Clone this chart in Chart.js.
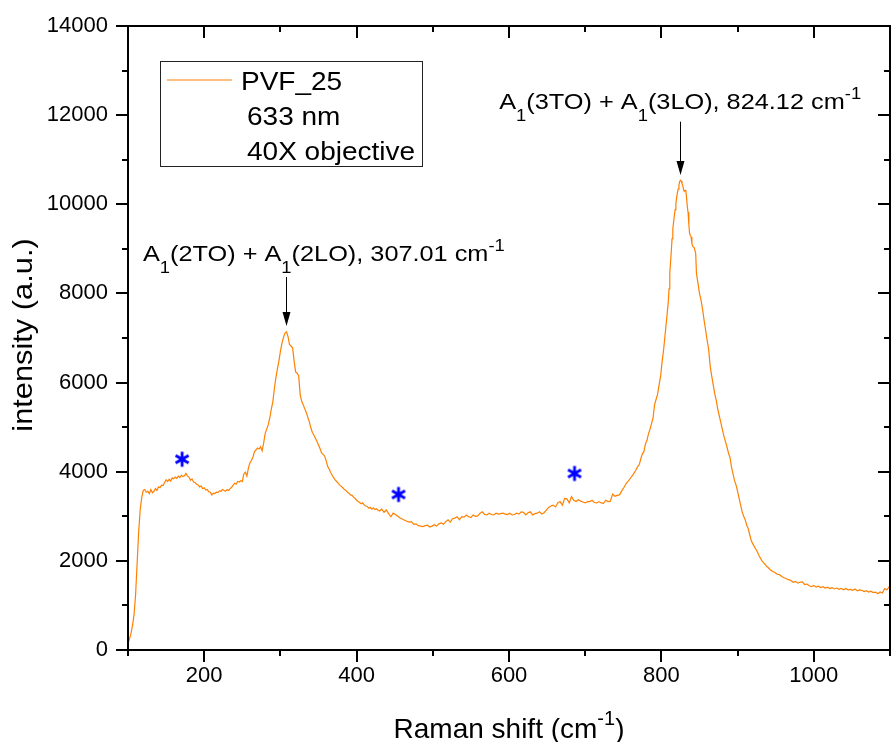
<!DOCTYPE html>
<html>
<head>
<meta charset="utf-8">
<script src="https://cdn.jsdelivr.net/npm/chart.js@4.4.1/dist/chart.umd.min.js"></script>
<style>
html, body { margin: 0; padding: 0; overflow: hidden; background: #fff; }
canvas { display: block; }
</style>
</head>
<body>
<canvas id="raman" width="900" height="742"></canvas>
<script>
// Raman spectrum, PVF_25 (633 nm, 40X objective)
const shift = [
  100,102,104,106,108,110,112,114,116,118,120,
  122,124,126,128,130,132,134,136,138,140,
  142,144,146,148,150,152,154,156,158,160,
  162,164,166,168,170,172,174,176,178,180,
  182,184,186,188,190,192,194,196,198,200,
  202,204,206,208,210,212,214,216,218,220,
  222,224,226,228,230,232,234,236,238,240,
  242,244,246,248,250,252,254,256,258,260,
  262,264,266,268,270,272,274,276,278,280,
  282,284,286,288,290,292,294,296,298,300,
  302,304,306,308,310,312,314,316,318,320,
  322,324,326,328,330,332,334,336,338,340,
  342,344,346,348,350,352,354,356,358,360,
  362,364,366,368,370,372,374,376,378,380,
  382,384,386,388,390,392,394,396,398,400,
  402,404,406,408,410,412,414,416,418,420,
  422,424,426,428,430,
  433,436,439,442,445,448,451,454,457,460,
  463,466,469,472,475,478,481,484,487,490,
  493,496,499,502,505,508,511,514,517,520,
  523,526,529,532,535,538,541,544,547,550,
  553,556,559,562,565,568,571,574,577,580,
  583,586,589,592,595,598,601,604,607,610,
  613,616,619,622,625,628,631,634,637,640,
  643,646,649,652,655,658,661,664,667,670,
  673,676,679,682,685,688,691,694,697,700,
  703,706,709,712,715,718,721,724,727,730,
  733,736,739,742,745,748,751,754,757,760,
  763,766,769,771,773,775,777,779,781,783,
  785,787,789,791,793,795,797,799,801,803,
  805,807,809,810,811,812,813,814,815,816,
  817,818,819,820,821,822,823,824,825,826,
  827,828,829,830,831,832,833,834,835,836,
  837,838,839,840,841,843,845,846,848,850,
  852,854,856,858,860,862,864,866,868,870,
  872,874,876,878,880,882,884,886,888,890,
  892,894,896,898,900,902,904,906,908,910,
  912,914,916,918,920,922,924,926,928,930,
  932,934,936,938,940,943,946,949,952,955,
  958,961,964,967,970,973,976,979,982,985,
  988,991,994,997,1000,1003,1006,1009,1012,1015,
  1018,1021,1024,1027,1030,1033,1036,1039,1042,1045,
  1048,1051,1054,1057,1060,1063,1066,1069,1072,1075,
  1078,1081,1084,1087,1090,1093,1096,1099
];
const intensity = [
  150,250,380,560,800,1250,1950,2650,3150,3420,3580,
  3600,3540,3560,3510,3600,3530,3560,3620,3580,3660,
  3640,3700,3690,3760,3820,3780,3830,3790,3860,3840,
  3880,3850,3900,3870,3920,3890,3910,3960,3900,3880,
  3810,3840,3770,3760,3720,3700,3660,3680,3620,3640,
  3590,3600,3550,3540,3480,3520,3510,3540,3530,3570,
  3560,3600,3580,3560,3600,3580,3620,3650,3700,3740,
  3720,3780,3770,3800,3780,3950,3990,3900,4080,4200,
  4250,4330,4450,4490,4530,4510,4560,4470,4640,4860,
  4950,5050,5200,5400,5560,5850,6100,6300,6480,6700,
  6880,7010,7110,7140,7030,6850,6820,6780,6480,6240,
  6210,6150,5720,5580,5500,5410,5330,5220,5120,4980,
  4880,4820,4750,4680,4600,4520,4420,4390,4350,4250,
  4120,4060,3980,3920,3860,3810,3780,3740,3700,3670,
  3640,3600,3580,3540,3520,3480,3470,3430,3400,3360,
  3330,3310,3280,3300,3250,3230,3220,3180,3200,3160,
  3190,3150,3170,3140,3120,
  3160,3090,3140,3060,2990,3070,3040,3000,2960,2940,
  2910,2890,2870,2880,2820,2830,2790,2780,2770,2790,
  2800,2760,2780,2810,2780,2830,2850,2820,2880,2920,
  2870,2950,2960,2990,2920,2990,2980,3030,2990,2970,
  3030,3000,3010,3070,3100,3040,3030,3070,3040,3030,
  3070,3050,3060,3070,3050,3040,3070,3030,3040,3070,
  3050,3100,3090,3030,3080,3100,3030,3060,3070,3100,
  3050,3080,3140,3200,3230,3250,3210,3300,3330,3250,
  3400,3390,3300,3440,3360,3330,3370,3340,3320,3300,
  3330,3330,3360,3310,3300,3330,3300,3290,3360,3330,
  3340,3500,3450,3470,3480,3570,3650,3740,3800,3870,
  3940,4020,4120,4160,4290,4400,4450,4620,4700,4850,
  4950,5080,5200,5500,5620,5740,5950,6150,6480,6750,
  7100,7450,7800,8100,8450,8700,8950,9230,9450,9600,
  9750,9880,10020,10150,10260,10340,10430,10510,10540,10520,
  10470,10420,10340,10290,10310,10320,10150,9950,9820,9550,
  9350,9300,9270,9120,9060,9030,8900,8450,8230,8000,
  7850,7650,7400,7180,6950,6750,6370,6150,5950,5750,
  5600,5400,5250,5100,4950,4800,4680,4560,4420,4320,
  4100,3950,3800,3700,3560,3400,3250,3100,3000,2920,
  2800,2720,2580,2450,2380,2320,2260,2200,2120,2060,
  2000,1960,1920,1880,1850,1800,1760,1740,1700,1690,
  1650,1620,1600,1580,1560,1520,1540,1500,1520,1530,
  1470,1480,1440,1420,1450,1410,1430,1400,1420,1390,
  1410,1380,1400,1370,1390,1360,1380,1350,1380,1350,
  1360,1340,1370,1330,1350,1340,1310,1330,1300,1320,
  1290,1300,1260,1300,1280,1380,1350,1420
];

// blue asterisks marking weak features
const starShift = [171, 455, 686];
const starIntensity = [4280, 3490, 3960];

// assigned peaks
const peakShift = [307.01, 824.12];
const peakLabels = [
  [['A'], ['1', 'sub'], ['(2TO) + A'], ['1', 'sub'], ['(2LO), 307.01 cm'], ['-1', 'sup']],
  [['A'], ['1', 'sub'], ['(3TO) + A'], ['1', 'sub'], ['(3LO), 824.12 cm'], ['-1', 'sup']]
];

const legendLines = ['PVF_25', '633 nm', '40X objective'];

// axis ticks
const xMin = 100, xMax = 1100, xStep = 100, xLabelEvery = 200;
const yMin = 0, yMax = 14000, yStep = 1000, yLabelEvery = 2000;

const FONT = "'Liberation Sans', Arial, Helvetica, sans-serif";
const ORANGE = '#ff8000';

// where each annotation sits (in data units): text start, baseline, arrow tail, arrow tip
const annotLayout = [
  { textX: 119.6, textY: 8728, tail: 8370, tip: 7270 },
  { textX: 587.2, textY: 12131, tail: 11853, tip: 10657 }
];

function richText(ctx, parts, x, y, size, sx, align) {
  const small = Math.round(size * 0.72);
  ctx.save();
  ctx.translate(x, y);
  ctx.scale(sx, 1);
  ctx.textAlign = 'left';
  ctx.textBaseline = 'alphabetic';
  let w = 0;
  parts.forEach(p => {
    ctx.font = (p[1] ? small : size) + 'px ' + FONT;
    w += ctx.measureText(p[0]).width;
  });
  let cx = align === 'center' ? -w / 2 : 0;
  parts.forEach(p => {
    ctx.font = (p[1] ? small : size) + 'px ' + FONT;
    let dy = 0;
    if (p[1] === 'sub') dy = size * 0.55;
    if (p[1] === 'sup') dy = -size * 0.45;
    ctx.fillText(p[0], cx, dy);
    cx += ctx.measureText(p[0]).width;
  });
  ctx.restore();
}

function asteriskImage(color) {
  const c = document.createElement('canvas');
  c.width = 18; c.height = 18;
  const g = c.getContext('2d');
  g.strokeStyle = color;
  g.lineWidth = 2.8;
  g.beginPath();
  for (let k = 0; k < 3; k++) {
    const a = Math.PI / 2 + k * Math.PI / 3;
    g.moveTo(9 + 7.5 * Math.cos(a), 9 + 7.5 * Math.sin(a));
    g.lineTo(9 - 7.5 * Math.cos(a), 9 - 7.5 * Math.sin(a));
  }
  g.stroke();
  return c;
}

// keep label overhang from shrinking the plot area
function noOverhang(s) {
  s.paddingLeft = 0; s.paddingRight = 0; s.paddingTop = 0; s.paddingBottom = 0;
}

const decorations = {
  id: 'decorations',
  afterDraw(chart) {
    const { ctx, chartArea: a, scales: { x, y } } = chart;
    ctx.save();

    // frame + ticks (out on bottom/left, mirrored inward on top/right)
    ctx.strokeStyle = '#000';
    ctx.lineWidth = 2;
    ctx.strokeRect(a.left, a.top, a.right - a.left, a.bottom - a.top);
    ctx.beginPath();
    x.ticks.forEach(t => {
      const px = Math.round(x.getPixelForValue(t.value));
      const len = t.value % xLabelEvery === 0 ? 12 : 6;
      ctx.moveTo(px, a.bottom); ctx.lineTo(px, a.bottom + len);
      ctx.moveTo(px, a.top); ctx.lineTo(px, a.top + len);
    });
    y.ticks.forEach(t => {
      const py = Math.round(y.getPixelForValue(t.value));
      const len = t.value % yLabelEvery === 0 ? 12 : 6;
      ctx.moveTo(a.left - len, py); ctx.lineTo(a.left, py);
      ctx.moveTo(a.right - len, py); ctx.lineTo(a.right, py);
    });
    ctx.stroke();

    // axis titles
    ctx.fillStyle = '#000';
    richText(ctx, [['Raman shift (cm'], ['-1', 'sup'], [')']], (a.left + a.right) / 2, 738, 28, 1, 'center');
    ctx.save();
    ctx.translate(32, (a.top + a.bottom) / 2 - 3);
    ctx.rotate(-Math.PI / 2);
    ctx.scale(1.1, 1);
    ctx.font = '28px ' + FONT;
    ctx.textAlign = 'center';
    ctx.textBaseline = 'alphabetic';
    ctx.fillText('intensity (a.u.)', 0, 0);
    ctx.restore();

    // peak annotations with arrows
    peakShift.forEach((p, i) => {
      const L = annotLayout[i];
      richText(ctx, peakLabels[i], x.getPixelForValue(L.textX), y.getPixelForValue(L.textY), 22, 1.15, 'left');
      const ax = Math.round(x.getPixelForValue(p)) + 0.5;
      const y0 = y.getPixelForValue(L.tail);
      const y1 = y.getPixelForValue(L.tip);
      ctx.strokeStyle = '#000';
      ctx.lineWidth = 1;
      ctx.beginPath();
      ctx.moveTo(ax, y0); ctx.lineTo(ax, y1 - 12);
      ctx.stroke();
      ctx.beginPath();
      ctx.moveTo(ax - 4, y1 - 14); ctx.lineTo(ax + 4, y1 - 14); ctx.lineTo(ax, y1);
      ctx.closePath();
      ctx.fill();
    });

    // legend box
    const bx = a.left + 33, by = a.top + 36;
    ctx.strokeStyle = '#222';
    ctx.lineWidth = 1;
    ctx.strokeRect(bx - 0.5, by - 0.5, 262, 105);
    ctx.strokeStyle = ORANGE;
    ctx.lineWidth = 1.2;
    ctx.beginPath();
    ctx.moveTo(bx + 6, by + 18); ctx.lineTo(bx + 71, by + 18);
    ctx.stroke();
    ctx.fillStyle = '#000';
    richText(ctx, [[legendLines[0]]], bx + 80, by + 28, 25, 1.12, 'left');
    richText(ctx, [[legendLines[1]]], bx + 86, by + 63, 25, 1.12, 'left');
    richText(ctx, [[legendLines[2]]], bx + 86, by + 97.5, 25, 1.12, 'left');

    ctx.restore();
  }
};

const points = shift.map((s, i) => ({ x: s, y: intensity[i] }));
const stars = starShift.map((s, i) => ({ x: s, y: starIntensity[i] }));

Chart.defaults.font.family = FONT;
Chart.defaults.color = '#000';

new Chart(document.getElementById('raman').getContext('2d'), {
  type: 'line',
  data: {
    datasets: [
      {
        label: legendLines[0],
        data: points,
        borderColor: ORANGE,
        borderWidth: 1.2,
        pointRadius: 0,
        tension: 0,
        fill: false
      },
      {
        type: 'scatter',
        label: 'marks',
        data: stars,
        pointStyle: asteriskImage('#0000ff'),
        pointRadius: 9
      }
    ]
  },
  options: {
    responsive: false,
    animation: false,
    devicePixelRatio: 1,
    layout: { padding: { top: 26, right: 5, left: 0, bottom: 0 } },
    plugins: { legend: { display: false }, tooltip: { enabled: false } },
    scales: {
      x: {
        type: 'linear',
        position: 'bottom',
        min: xMin,
        max: xMax,
        grid: { display: false, drawTicks: false },
        border: { display: false },
        ticks: {
          stepSize: xStep,
          maxRotation: 0,
          autoSkip: false,
          padding: 13,
          font: { size: 22 },
          callback: v => (v % xLabelEvery === 0 ? String(v) : '')
        },
        afterFit(s) { s.height = 92; noOverhang(s); }
      },
      y: {
        min: yMin,
        max: yMax,
        grid: { display: false, drawTicks: false },
        border: { display: false },
        ticks: {
          stepSize: yStep,
          autoSkip: false,
          padding: 20,
          font: { size: 22 },
          callback: v => (v % yLabelEvery === 0 ? String(v) : '')
        },
        afterFit(s) { s.width = 128; noOverhang(s); }
      }
    }
  },
  plugins: [decorations]
});
</script>
</body>
</html>
